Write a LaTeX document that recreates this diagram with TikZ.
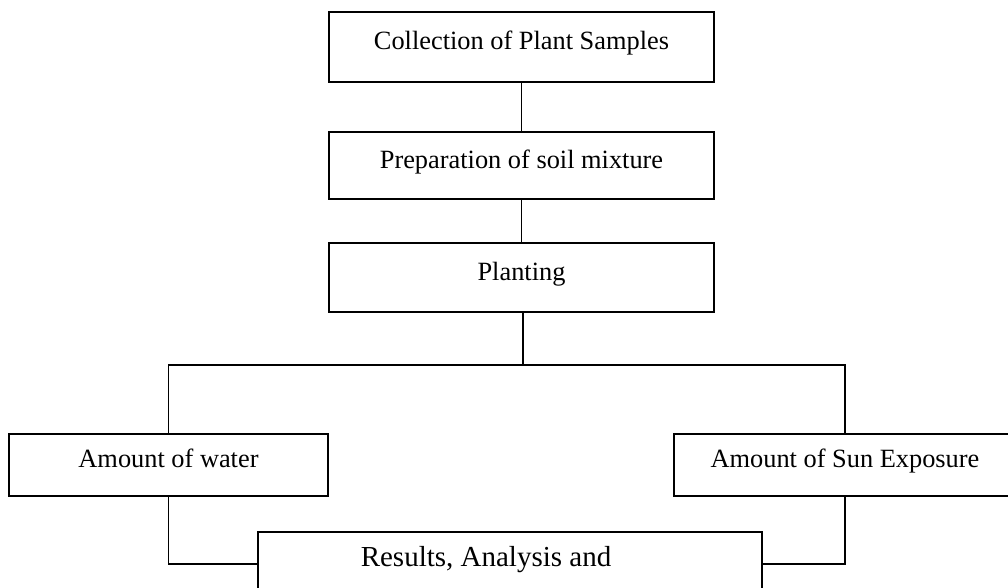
\documentclass[tikz,border=0pt]{standalone}
\usepackage{fontspec}
\setmainfont{Liberation Serif}
\usepackage{tikz}
\usetikzlibrary{positioning,calc}

\begin{document}
\begin{tikzpicture}[
    stepbox/.style={draw, line width=0.7pt, minimum height=1.36cm, text height=8pt, text depth=4.8pt, align=center, font=\fontsize{15}{18}\selectfont},
    link/.style={line width=0.75pt}
]
\useasboundingbox (0,0) rectangle (20.16,11.76);

\node[stepbox, minimum width=7.7cm, minimum height=1.4cm] (collect) at (10.43,10.82) {Collection of Plant Samples};
\node[stepbox, minimum width=7.7cm, minimum height=1.34cm] (soil) at (10.43,8.45) {Preparation of soil mixture};
\node[stepbox, minimum width=7.7cm, minimum height=1.38cm] (plant) at (10.43,6.21) {Planting};

\coordinate (split) at (10.46,4.46);
\node[stepbox, minimum width=6.38cm, minimum height=1.24cm] (water) at (3.37,2.46) {Amount of water};
\node[stepbox, minimum width=6.84cm, minimum height=1.24cm] (sun) at (16.9,2.46) {Amount of Sun Exposure};

\node[stepbox, minimum width=10.08cm, minimum height=1.28cm] (res) at (10.2,0.48) {};
\node[font=\fontsize{16.5}{20}\selectfont] (restxt) at ([xshift=-0.48cm,yshift=0.08cm]res.center) {Results, Analysis and};

\draw[link] (collect) -- (soil);
\draw[link] (soil) -- (plant);
\draw[link] (plant.south -| split) -- (split);
\draw[link] (water.north) |- (split) -| (sun.north);
\draw[link] (water.south) |- (res.west);
\draw[link] (sun.south) |- (res.east);
\end{tikzpicture}
\end{document}
